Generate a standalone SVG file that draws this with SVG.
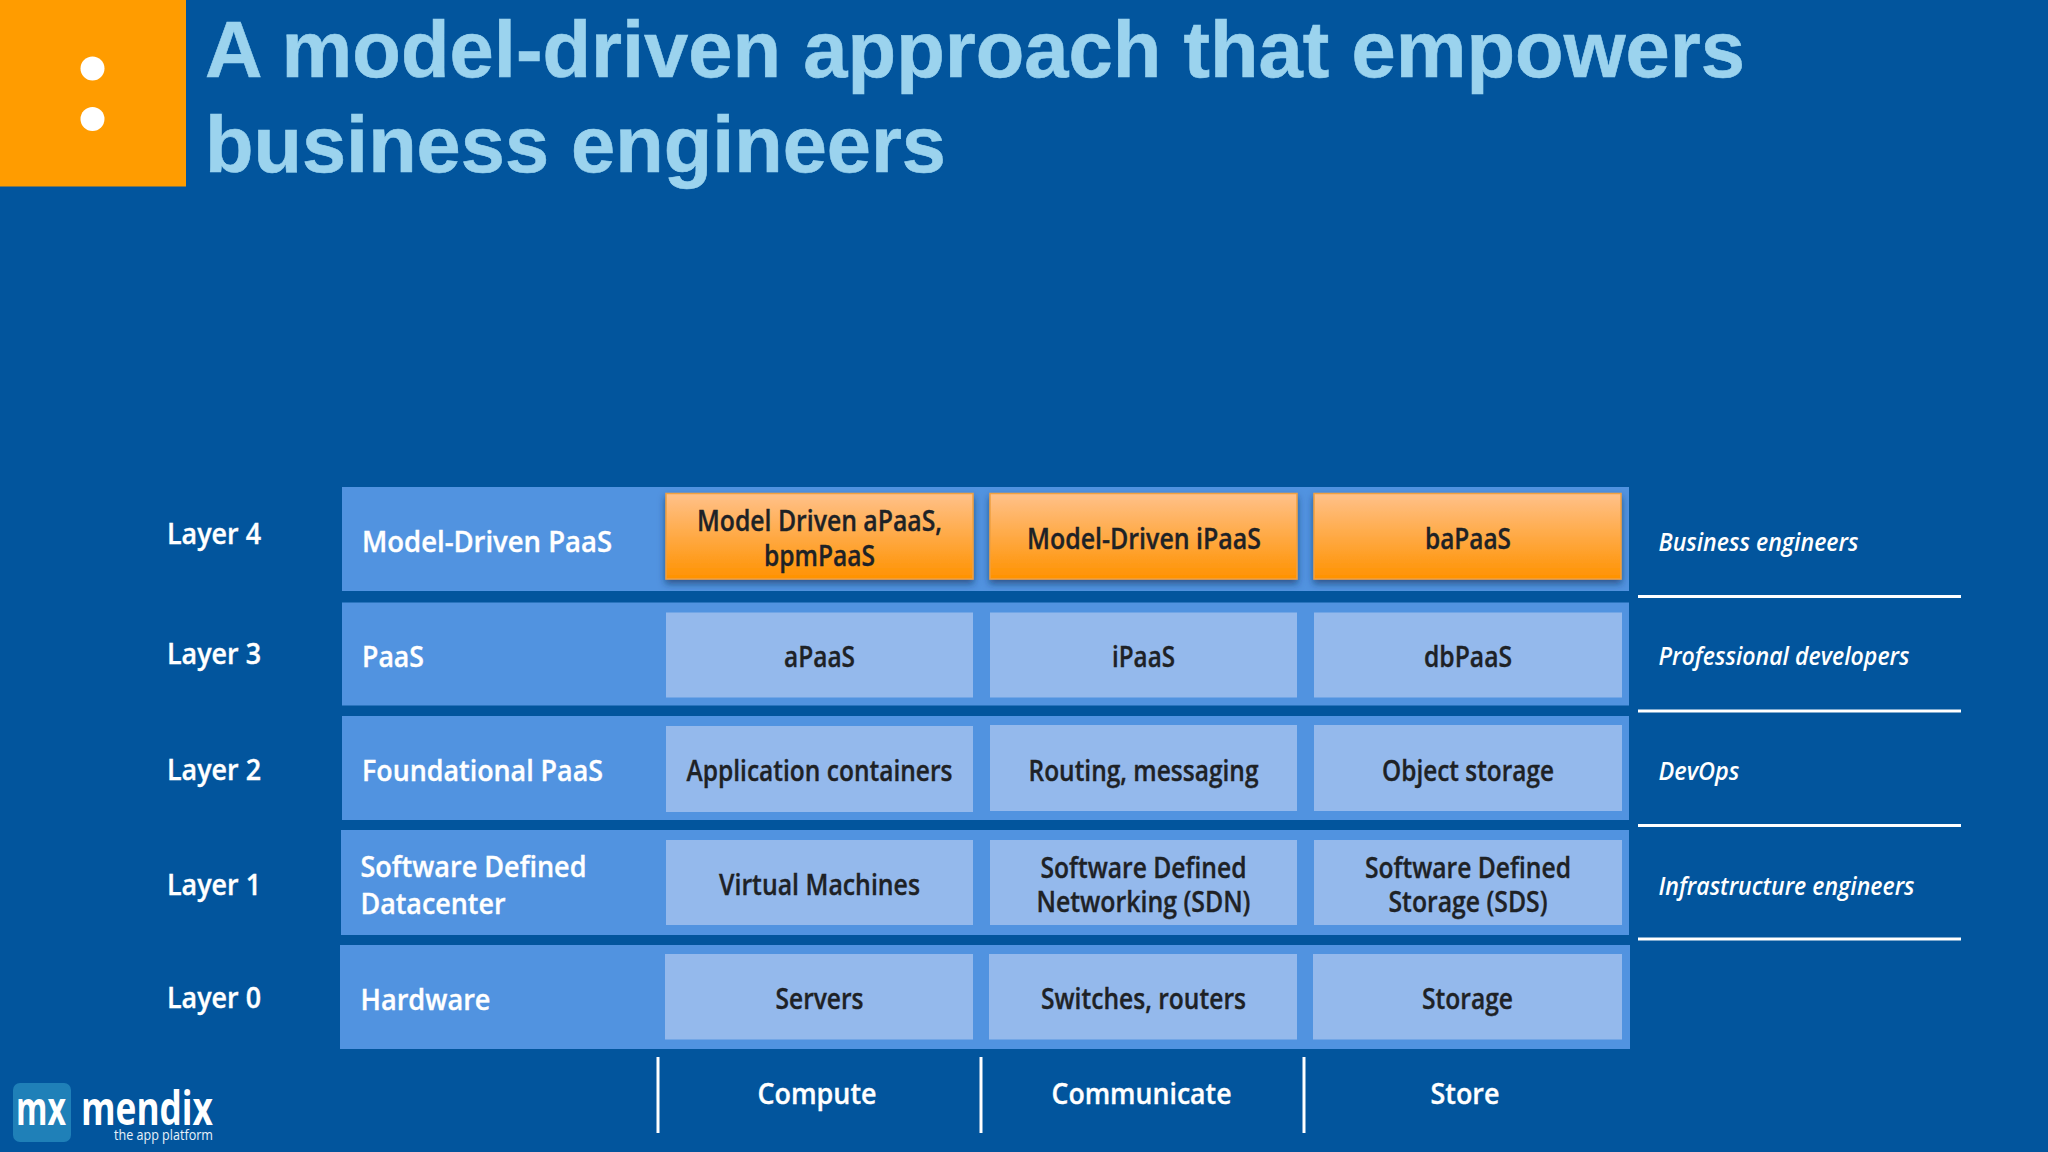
<svg xmlns="http://www.w3.org/2000/svg" width="2048" height="1152" viewBox="0 0 2048 1152">
<style>
.t{font-family:"Liberation Sans",Arial,sans-serif;font-weight:700;font-size:79.7px;fill:#9BD3EE;stroke:#9BD3EE;stroke-width:.6}
.w,.d,.i{font-family:"Open Sans","Noto Sans",sans-serif;font-weight:600;font-size:28.5px}
.w,.d{transform:translateY(1px);stroke-width:.35}
.w,.i{fill:#fff}
.w{stroke:#fff}
.d{fill:#1e2226;stroke:#1e2226;text-anchor:middle}
.c{text-anchor:middle}
.i{font-style:italic;font-size:25px}
.row{fill:#5193E0}
.cell{fill:#94B9EC}
.or{fill:url(#og);stroke:#F0A040;stroke-width:1.5;filter:url(#sh)}
.ln{stroke:#fff;stroke-width:3;fill:none}
</style>
<defs>
<linearGradient id="og" x1="0" y1="0" x2="0" y2="1"><stop offset="0" stop-color="#FFC18A"/><stop offset="1" stop-color="#FF9200"/></linearGradient>
<filter id="sh" x="-5%" y="-10%" width="110%" height="125%"><feDropShadow dx="0" dy="4" stdDeviation="3.5" flood-color="#0a2a55" flood-opacity="0.6"/></filter>
</defs>
<rect width="2048" height="1152" fill="#02559D"/>
<g id="badge"><rect width="186" height="186.5" fill="#FF9C00"/><circle cx="92.5" cy="68.5" r="12" fill="#fff"/><circle cx="92.5" cy="119" r="12" fill="#fff"/></g>
<g id="title"><text class="t" x="205" y="77" textLength="1540" lengthAdjust="spacingAndGlyphs">A model-driven approach that empowers</text><text class="t" x="205" y="171.5" textLength="741" lengthAdjust="spacingAndGlyphs">business engineers</text></g>

<g id="layer4"><text class="w" x="167" y="543" textLength="94" lengthAdjust="spacingAndGlyphs">Layer 4</text>
<rect class="row" x="342" y="487" width="1287" height="104"/>
<text class="w" x="362" y="551" textLength="250" lengthAdjust="spacingAndGlyphs">Model-Driven PaaS</text></g>
<g id="l4c1"><rect class="or" x="666" y="493.5" width="307" height="85.5"/><text class="d" x="819.5" y="530" textLength="245" lengthAdjust="spacingAndGlyphs">Model Driven aPaaS,</text><text class="d" x="819.5" y="565" textLength="111" lengthAdjust="spacingAndGlyphs">bpmPaaS</text></g>
<g id="l4c2"><rect class="or" x="990" y="493.5" width="307" height="85.5"/><text class="d" x="1144" y="548" textLength="234" lengthAdjust="spacingAndGlyphs">Model-Driven iPaaS</text></g>
<g id="l4c3"><rect class="or" x="1314" y="493.5" width="307" height="85.5"/><text class="d" x="1468" y="548" textLength="86" lengthAdjust="spacingAndGlyphs">baPaaS</text></g>

<g id="layer3"><text class="w" x="167" y="663" textLength="94" lengthAdjust="spacingAndGlyphs">Layer 3</text>
<rect class="row" x="342" y="602.5" width="1287" height="103"/>
<text class="w" x="362" y="666" textLength="62" lengthAdjust="spacingAndGlyphs">PaaS</text></g>
<g id="l3c1"><rect class="cell" x="666" y="612.5" width="307" height="85"/><text class="d" x="819.5" y="666" textLength="71" lengthAdjust="spacingAndGlyphs">aPaaS</text></g>
<g id="l3c2"><rect class="cell" x="990" y="612.5" width="307" height="85"/><text class="d" x="1143.5" y="666" textLength="63" lengthAdjust="spacingAndGlyphs">iPaaS</text></g>
<g id="l3c3"><rect class="cell" x="1314" y="612.5" width="308" height="85"/><text class="d" x="1468" y="666" textLength="88" lengthAdjust="spacingAndGlyphs">dbPaaS</text></g>

<g id="layer2"><text class="w" x="167" y="779" textLength="94" lengthAdjust="spacingAndGlyphs">Layer 2</text>
<rect class="row" x="342" y="716" width="1287" height="104"/>
<text class="w" x="362" y="780" textLength="241" lengthAdjust="spacingAndGlyphs">Foundational PaaS</text></g>
<g id="l2c1"><rect class="cell" x="666" y="726" width="307" height="86"/><text class="d" x="819.5" y="780" textLength="266" lengthAdjust="spacingAndGlyphs">Application containers</text></g>
<g id="l2c2"><rect class="cell" x="990" y="725" width="307" height="86"/><text class="d" x="1143.5" y="780" textLength="230" lengthAdjust="spacingAndGlyphs">Routing, messaging</text></g>
<g id="l2c3"><rect class="cell" x="1314" y="725" width="308" height="86"/><text class="d" x="1468" y="780" textLength="172" lengthAdjust="spacingAndGlyphs">Object storage</text></g>

<g id="layer1"><text class="w" x="167" y="894" textLength="94" lengthAdjust="spacingAndGlyphs">Layer 1</text>
<rect class="row" x="341" y="830" width="1288" height="105"/>
<text class="w" x="360.5" y="876" textLength="226" lengthAdjust="spacingAndGlyphs">Software Defined</text><text class="w" x="360.5" y="913" textLength="145" lengthAdjust="spacingAndGlyphs">Datacenter</text></g>
<g id="l1c1"><rect class="cell" x="666" y="840" width="307" height="85"/><text class="d" x="819.5" y="894" textLength="201" lengthAdjust="spacingAndGlyphs">Virtual Machines</text></g>
<g id="l1c2"><rect class="cell" x="990" y="840" width="307" height="85"/><text class="d" x="1143.5" y="877" textLength="206" lengthAdjust="spacingAndGlyphs">Software Defined</text><text class="d" x="1143.5" y="911" textLength="214" lengthAdjust="spacingAndGlyphs">Networking (SDN)</text></g>
<g id="l1c3"><rect class="cell" x="1314" y="840" width="308" height="85"/><text class="d" x="1468" y="877" textLength="206" lengthAdjust="spacingAndGlyphs">Software Defined</text><text class="d" x="1468" y="911" textLength="159" lengthAdjust="spacingAndGlyphs">Storage (SDS)</text></g>

<g id="layer0"><text class="w" x="167" y="1007" textLength="94" lengthAdjust="spacingAndGlyphs">Layer 0</text>
<rect class="row" x="340" y="945" width="1290" height="104"/>
<text class="w" x="360.5" y="1009" textLength="130" lengthAdjust="spacingAndGlyphs">Hardware</text></g>
<g id="l0c1"><rect class="cell" x="665" y="954" width="308" height="85.5"/><text class="d" x="819.5" y="1008" textLength="88" lengthAdjust="spacingAndGlyphs">Servers</text></g>
<g id="l0c2"><rect class="cell" x="989" y="954" width="308" height="85.5"/><text class="d" x="1143.5" y="1008" textLength="205" lengthAdjust="spacingAndGlyphs">Switches, routers</text></g>
<g id="l0c3"><rect class="cell" x="1313" y="954" width="309" height="85.5"/><text class="d" x="1467.5" y="1008" textLength="91" lengthAdjust="spacingAndGlyphs">Storage</text></g>

<g id="roles">
<text class="i" x="1658.5" y="550.5" textLength="200" lengthAdjust="spacingAndGlyphs">Business engineers</text>
<text class="i" x="1658.5" y="664.5" textLength="251" lengthAdjust="spacingAndGlyphs">Professional developers</text>
<text class="i" x="1658.5" y="779.5" textLength="81" lengthAdjust="spacingAndGlyphs">DevOps</text>
<text class="i" x="1658.5" y="894.5" textLength="256" lengthAdjust="spacingAndGlyphs">Infrastructure engineers</text>
</g>
<g id="connectors">
<line class="ln" x1="1638" y1="596.5" x2="1961" y2="596.5"/>
<line class="ln" x1="1638" y1="711" x2="1961" y2="711"/>
<line class="ln" x1="1638" y1="825.5" x2="1961" y2="825.5"/>
<line class="ln" x1="1638" y1="939" x2="1961" y2="939"/>
<line class="ln" x1="658" y1="1057" x2="658" y2="1133"/>
<line class="ln" x1="981" y1="1057" x2="981" y2="1133"/>
<line class="ln" x1="1304" y1="1057" x2="1304" y2="1133"/>
</g>
<g id="columns">
<text class="w c" x="817" y="1103" textLength="119" lengthAdjust="spacingAndGlyphs">Compute</text>
<text class="w c" x="1141.5" y="1103" textLength="180" lengthAdjust="spacingAndGlyphs">Communicate</text>
<text class="w c" x="1465" y="1103" textLength="69" lengthAdjust="spacingAndGlyphs">Store</text>
</g>
<g id="logo"><rect x="13" y="1083" width="58" height="59" rx="7" fill="#1F80B8"/>
<text x="41" y="1125" text-anchor="middle" font-family="Open Sans,sans-serif" font-weight="700" font-size="46" fill="#fff" textLength="50" lengthAdjust="spacingAndGlyphs">mx</text>
<text x="81" y="1125" font-family="Open Sans,sans-serif" font-weight="700" font-size="46" fill="#fff" textLength="132" lengthAdjust="spacingAndGlyphs">mendix</text>
<text x="114" y="1139.5" font-family="Open Sans,sans-serif" font-size="15" fill="#E8F2FA" textLength="99" lengthAdjust="spacingAndGlyphs">the app platform</text></g>
</svg>
